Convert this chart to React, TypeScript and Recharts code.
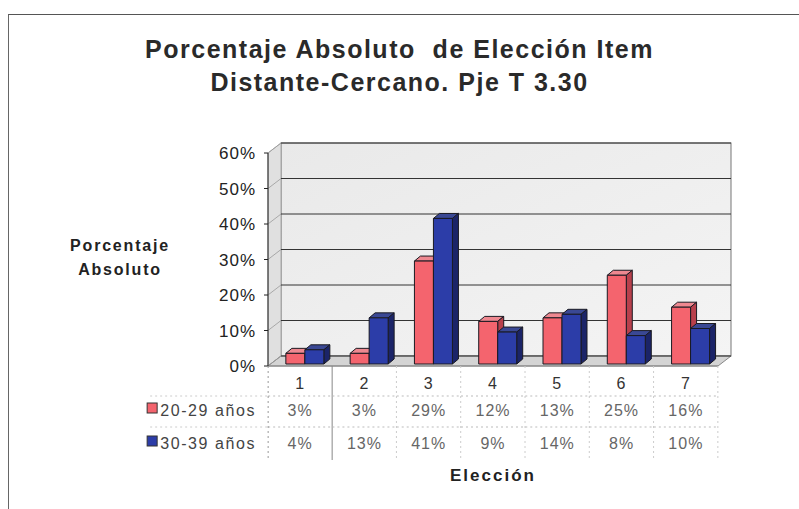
import { BarChart, Bar, XAxis, YAxis, ReferenceArea, ReferenceLine } from 'recharts'

const categories = ['1', '2', '3', '4', '5', '6', '7']
const series2029 = [3, 3, 29, 12, 13, 25, 16]
const series3039 = [4, 13, 41, 9, 14, 8, 10]
const seriesNames = ['20-29 años', '30-39 años']
const yTicks = [0, 10, 20, 30, 40, 50, 60]

const data = categories.map((c, i) => ({ cat: c, a: series2029[i], b: series3039[i] }))

const FONT = '"Liberation Sans", Arial, sans-serif'
const RED = { front: '#F4646E', top: '#EE8890', side: '#B8404C' }
const BLUE = { front: '#2C3DA8', top: '#3A4894', side: '#1B2468' }
// depth of the 3D walls and bars
const WX = 13
const WY = 10
const BX = 6
const BY = 5

function Bar3D(props: any) {
  const { width, height, colors } = props
  if (!width || height == null) return null
  const x = props.x + 5
  const y = props.y - 2
  return (
    <g stroke="#1a1a22" strokeWidth={1} strokeLinejoin="round">
      <polygon points={`${x},${y} ${x + BX},${y - BY} ${x + width + BX},${y - BY} ${x + width},${y}`} fill={colors.top} />
      <polygon
        points={`${x + width},${y} ${x + width + BX},${y - BY} ${x + width + BX},${y + height - BY} ${x + width},${y + height}`}
        fill={colors.side}
      />
      <rect x={x} y={y} width={width} height={height} fill={colors.front} />
    </g>
  )
}

function Walls(props: any) {
  const { x, y, width, height } = props
  const b = y + height
  return (
    <g>
      <defs>
        <linearGradient id="wallGrad" x1="0" y1="0" x2="1" y2="1">
          <stop offset="0%" stopColor="#e9e9e9" />
          <stop offset="100%" stopColor="#f4f4f4" />
        </linearGradient>
      </defs>
      <rect x={x + WX} y={y - WY} width={width} height={height} fill="url(#wallGrad)" stroke="#777" strokeWidth={1} />
      <polygon points={`${x},${y} ${x + WX},${y - WY} ${x + WX},${b - WY} ${x},${b}`} fill="#e0e0e0" stroke="#999" strokeWidth={0.8} />
      <polygon points={`${x},${b} ${x + WX},${b - WY} ${x + width + WX},${b - WY} ${x + width},${b}`} fill="#d4d4d4" stroke="#888" strokeWidth={1} />
    </g>
  )
}

function GridLine3D(props: any) {
  const { x1, y1, x2 } = props
  return (
    <g>
      <line x1={x1} y1={y1} x2={x1 + WX} y2={y1 - WY} stroke="#999" strokeWidth={0.8} />
      <line x1={x1 + WX} y1={y1 - WY} x2={x2 + WX} y2={y1 - WY} stroke="#333" strokeWidth={1} />
    </g>
  )
}

function TableTick(props: any) {
  const { x, y, payload } = props
  const i = payload.index
  const half = 32
  const dash = '2 3'
  return (
    <g fontFamily={FONT} fontSize={16} fill="#333" letterSpacing={1}>
      <text x={x} y={y + 15} textAnchor="middle">{payload.value}</text>
      <text x={x} y={y + 42} textAnchor="middle" fill="#666">{series2029[i]}%</text>
      <text x={x} y={y + 75} textAnchor="middle" fill="#666">{series3039[i]}%</text>
      <line x1={x - half} x2={x + half} y1={y + 22} y2={y + 22} stroke="#bbb" strokeDasharray={dash} />
      <line x1={x - half} x2={x + half} y1={y + 53} y2={y + 53} stroke="#bbb" strokeDasharray={dash} />
      <line
        x1={x + half}
        x2={x + half}
        y1={y - 8}
        y2={y + 86}
        stroke={i === 0 ? '#888' : '#ccc'}
        strokeDasharray={i === 0 ? undefined : dash}
      />
      {i === 0 && (
        <g>
          <line x1={x - half} x2={x - half} y1={y - 8} y2={y + 86} stroke="#999" strokeDasharray={dash} />
          <line x1={x - 150} x2={x - half} y1={y + 22} y2={y + 22} stroke="#ccc" strokeDasharray={dash} />
          <line x1={x - 150} x2={x - half} y1={y + 53} y2={y + 53} stroke="#ccc" strokeDasharray={dash} />
          <rect x={x - 153} y={y + 29} width={10} height={10} fill={RED.front} stroke="#333" />
          <text x={x - 140} y={y + 42} fill="#444" letterSpacing={1.6}>{seriesNames[0]}</text>
          <rect x={x - 153} y={y + 62} width={10} height={10} fill={BLUE.front} stroke="#333" />
          <text x={x - 140} y={y + 75} fill="#444" letterSpacing={1.6}>{seriesNames[1]}</text>
        </g>
      )}
    </g>
  )
}

export default function App() {
  return (
    <div style={{ position: 'absolute', left: 0, top: 0, width: 799, height: 509, background: '#fff', fontFamily: FONT }}>
      <div
        style={{
          position: 'absolute',
          left: 8,
          top: 14,
          width: 791,
          height: 495,
          borderTop: '1.5px solid #555',
          borderLeft: '1.5px solid #666',
          boxSizing: 'border-box',
        }}
      />
      <div
        style={{
          position: 'absolute',
          left: 0,
          width: 799,
          top: 33,
          textAlign: 'center',
          fontWeight: 'bold',
          fontSize: 25,
          lineHeight: '33px',
          letterSpacing: 1.5,
          color: '#2a2a2a',
        }}
      >
        Porcentaje Absoluto&nbsp; de Elección Item
        <br />
        Distante-Cercano. Pje T 3.30
      </div>
      <div
        style={{
          position: 'absolute',
          left: 50,
          width: 140,
          top: 234,
          textAlign: 'center',
          fontWeight: 'bold',
          fontSize: 16,
          lineHeight: '24px',
          letterSpacing: 1.8,
          color: '#222',
        }}
      >
        Porcentaje
        <br />
        Absoluto
      </div>
      <div
        style={{
          position: 'absolute',
          left: 393,
          width: 200,
          top: 466,
          textAlign: 'center',
          fontWeight: 'bold',
          fontSize: 17,
          letterSpacing: 2,
          color: '#222',
        }}
      >
        Elección
      </div>
      <BarChart
        width={799}
        height={509}
        data={data}
        margin={{ top: 153, right: 81, bottom: 43, left: 0 }}
        barCategoryGap="20%"
        barGap={0}
        style={{ position: 'absolute', left: 0, top: 0 }}
      >
        <ReferenceArea y1={0} y2={60} shape={<Walls />} isFront={false} zIndex={-90} />
        {yTicks.map((v) => (
          <ReferenceLine key={v} y={v} shape={<GridLine3D />} zIndex={-80} />
        ))}
        <XAxis
          dataKey="cat"
          height={100}
          axisLine={{ stroke: '#888' }}
          tickLine={false}
          tick={<TableTick />}
          interval={0}
        />
        <YAxis
          width={268}
          domain={[0, 60]}
          ticks={yTicks}
          tickFormatter={(v) => `${v}%`}
          axisLine={{ stroke: '#222' }}
          tickLine={{ stroke: '#222' }}
          tickSize={4}
          tickMargin={8}
          tick={{ fontSize: 17, fill: '#222', fontFamily: FONT, letterSpacing: 1 }}
        />
        <Bar dataKey="a" name={seriesNames[0]} isAnimationActive={false} shape={(p: any) => <Bar3D {...p} colors={RED} />} />
        <Bar dataKey="b" name={seriesNames[1]} isAnimationActive={false} shape={(p: any) => <Bar3D {...p} colors={BLUE} />} />
      </BarChart>
    </div>
  )
}
